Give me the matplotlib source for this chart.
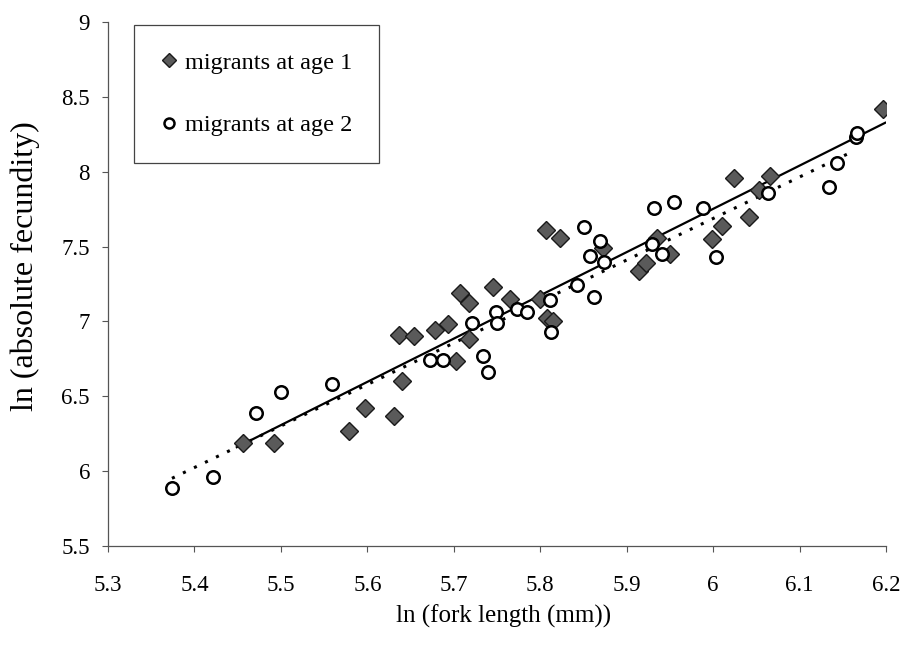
import matplotlib.pyplot as plt

# migrants at age 1 (filled diamonds)
age1_x = [5.456, 5.492, 5.579, 5.597, 5.631, 5.640, 5.637, 5.654, 5.678, 5.693,
          5.703, 5.707, 5.717, 5.718, 5.745, 5.765, 5.800, 5.808, 5.815, 5.807,
          5.823, 5.873, 5.914, 5.922, 5.935, 5.950, 5.999, 6.010, 6.024, 6.042,
          6.053, 6.066, 6.197]
age1_y = [6.19, 6.19, 6.27, 6.42, 6.37, 6.60, 6.91, 6.90, 6.94, 6.98,
          6.735, 7.19, 7.12, 6.88, 7.23, 7.15, 7.15, 7.02, 7.00, 7.61,
          7.56, 7.49, 7.34, 7.39, 7.555, 7.45, 7.55, 7.64, 7.96, 7.70,
          7.88, 7.97, 8.42]

# migrants at age 2 (open circles)
age2_x = [5.374, 5.421, 5.471, 5.500, 5.559, 5.673, 5.687, 5.721, 5.734, 5.740,
          5.749, 5.750, 5.773, 5.785, 5.811, 5.812, 5.843, 5.851, 5.857, 5.862,
          5.869, 5.874, 5.929, 5.932, 5.941, 5.955, 5.988, 6.003, 6.064, 6.134,
          6.143, 6.165, 6.166]
age2_y = [5.89, 5.96, 6.39, 6.53, 6.58, 6.74, 6.74, 6.99, 6.77, 6.66,
          7.06, 6.99, 7.08, 7.06, 7.14, 6.93, 7.24, 7.63, 7.44, 7.165,
          7.54, 7.40, 7.52, 7.755, 7.45, 7.80, 7.76, 7.43, 7.86, 7.90,
          8.06, 8.23, 8.26]

# regression lines (end points)
fit1_x = [5.449, 6.199]
fit1_y = [6.16, 8.327]
fit2_x = [5.374, 6.161]
fit2_y = [5.952, 8.134]

x_ticks = [5.3, 5.4, 5.5, 5.6, 5.7, 5.8, 5.9, 6.0, 6.1, 6.2]
x_labels = ['5.3', '5.4', '5.5', '5.6', '5.7', '5.8', '5.9', '6', '6.1', '6.2']
y_ticks = [5.5, 6, 6.5, 7, 7.5, 8, 8.5, 9]
y_labels = ['5.5', '6', '6.5', '7', '7.5', '8', '8.5', '9']


def main():
    plt.rcParams['font.family'] = ['Liberation Serif', 'DejaVu Serif']
    fig = plt.figure(figsize=(9.06, 6.61), dpi=100)
    ax = fig.add_axes([0.1192, 0.174, 0.8588, 0.7927])

    ax.plot(fit2_x, fit2_y, color='black', linewidth=2.2, linestyle=(0, (1, 3.0)), zorder=2)
    ax.plot(fit1_x, fit1_y, color='black', linewidth=1.6, linestyle='solid', zorder=2)

    ax.plot(age1_x, age1_y, linestyle='none', marker='D', markersize=9.5,
            markerfacecolor='#5a5a5a', markeredgecolor='#1a1a1a', markeredgewidth=1.0,
            label='migrants at age 1', zorder=3)
    ax.plot(age2_x, age2_y, linestyle='none', marker='o', markersize=9,
            markerfacecolor='white', markeredgecolor='black', markeredgewidth=1.8,
            label='migrants at age 2', zorder=4)

    ax.set_xlim(5.3, 6.2)
    ax.set_ylim(5.5, 9)
    ax.set_xticks(x_ticks)
    ax.set_xticklabels(x_labels)
    ax.set_yticks(y_ticks)
    ax.set_yticklabels(y_labels)
    ax.tick_params(direction='out', length=4, width=0.8, color='#555555', labelsize=16.5)
    ax.tick_params(axis='x', pad=17)
    ax.tick_params(axis='y', pad=9)

    for side in ['top', 'right']:
        ax.spines[side].set_visible(False)
    for side in ['left', 'bottom']:
        ax.spines[side].set_color('#555555')
        ax.spines[side].set_linewidth(0.9)

    ax.set_xlabel('ln (fork length (mm))', fontsize=18)
    ax.set_ylabel('ln (absolute fecundity)', fontsize=23)
    ax.xaxis.set_label_coords(0.509, -0.112)
    ax.yaxis.set_label_coords(-0.088, 0.534)

    leg = ax.legend(loc='upper left', bbox_to_anchor=(0.033, 0.994), fontsize=17.5,
                    frameon=True, fancybox=False, edgecolor='#444444', framealpha=1,
                    handlelength=0.7, handletextpad=0.3, labelspacing=1.65,
                    borderpad=1.1, borderaxespad=0, markerscale=0.8)
    leg.get_frame().set_linewidth(0.9)

    fig.savefig('out.png', dpi=100)


if __name__ == '__main__':
    main()
